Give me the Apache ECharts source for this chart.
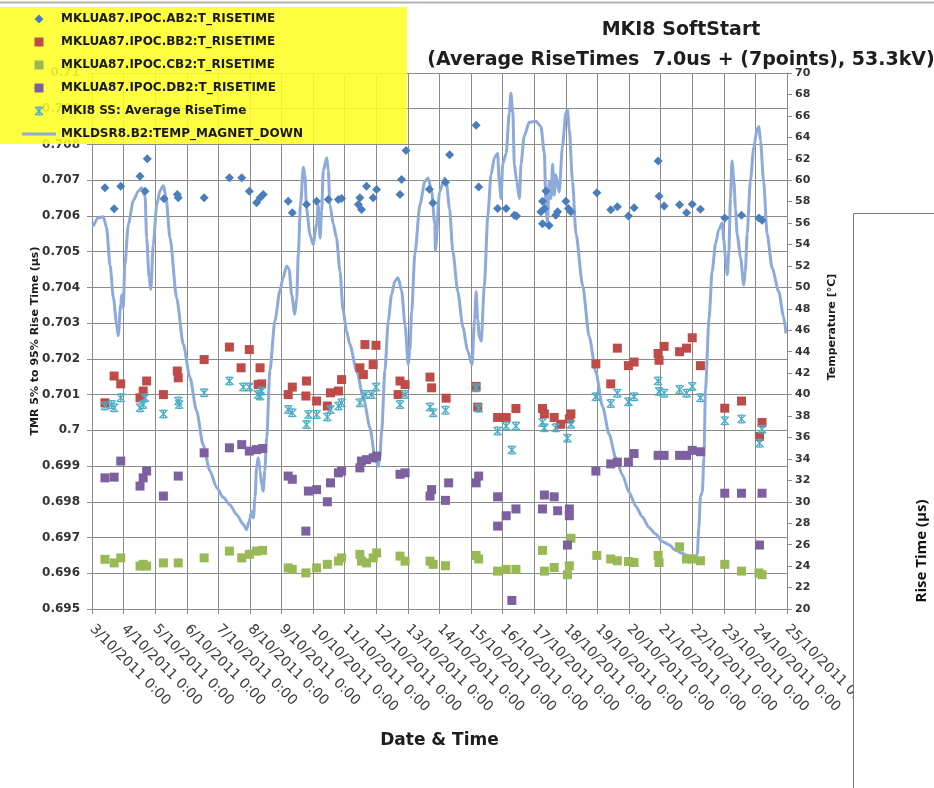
<!DOCTYPE html>
<html>
<head>
<meta charset="utf-8">
<script src="https://cdn.jsdelivr.net/npm/echarts@6/dist/echarts.min.js"></script>
<style>html,body{margin:0;padding:0;background:#fff}#c{width:934px;height:788px}</style>
</head>
<body>
<div id="c"></div>
<script>
// x = day of October 2011 (decimal), y = rise time (µs)
const ab2 = [[3.41,0.70679],[3.70,0.70620],[3.91,0.70683],[4.52,0.70711],[4.75,0.70760],[4.68,0.70669],[5.28,0.70648],[5.70,0.70660],[5.73,0.70651],[6.55,0.70651],[7.35,0.70707],[7.74,0.70707],[7.98,0.70669],[8.21,0.70637],[8.32,0.70651],[8.42,0.70660],[9.21,0.70641],[9.34,0.70609],[9.79,0.70632],[10.11,0.70641],[10.48,0.70646],[10.80,0.70646],[10.90,0.70649],[11.48,0.70651],[11.43,0.70632],[11.53,0.70618],[11.69,0.70683],[11.90,0.70651],[12.01,0.70674],[12.75,0.70660],[12.80,0.70702],[12.94,0.70783],[13.68,0.70675],[13.79,0.70636],[14.19,0.70694],[14.32,0.70771],[15.16,0.70854],[15.24,0.70681],[15.84,0.70621],[16.11,0.70621],[16.37,0.70602],[16.44,0.70600],[17.37,0.70670],[17.26,0.70641],[17.32,0.70621],[17.21,0.70612],[17.26,0.70578],[17.47,0.70573],[17.68,0.70602],[17.74,0.70612],[18.00,0.70641],[18.08,0.70621],[18.16,0.70612],[18.98,0.70665],[19.42,0.70617],[19.63,0.70626],[19.98,0.70600],[20.16,0.70623],[20.92,0.70754],[20.95,0.70655],[21.11,0.70628],[21.60,0.70631],[21.82,0.70609],[22.00,0.70633],[22.26,0.70619],[23.03,0.70594],[23.56,0.70602],[24.11,0.70594],[24.21,0.70588]];
const bb2 = [[3.41,0.70077],[3.70,0.70152],[3.91,0.70130],[4.52,0.70091],[4.62,0.70110],[4.73,0.70138],[5.26,0.70100],[5.70,0.70166],[5.73,0.70147],[6.55,0.70198],[7.35,0.70233],[7.72,0.70175],[7.98,0.70226],[8.32,0.70175],[8.26,0.70128],[8.37,0.70130],[9.21,0.70100],[9.34,0.70121],[9.79,0.70138],[9.77,0.70096],[10.11,0.70082],[10.45,0.70068],[10.55,0.70105],[10.80,0.70110],[10.90,0.70142],[11.48,0.70175],[11.59,0.70156],[11.64,0.70240],[11.99,0.70238],[11.90,0.70184],[12.75,0.70138],[12.91,0.70128],[12.69,0.70100],[13.70,0.70149],[13.75,0.70119],[14.21,0.70090],[15.16,0.70123],[15.21,0.70065],[15.84,0.70036],[16.11,0.70036],[16.42,0.70061],[17.26,0.70061],[17.32,0.70046],[17.63,0.70036],[17.84,0.70017],[18.16,0.70046],[18.11,0.70032],[18.95,0.70186],[19.42,0.70130],[19.63,0.70230],[19.98,0.70181],[20.16,0.70191],[20.92,0.70215],[20.95,0.70196],[21.11,0.70235],[21.60,0.70220],[21.82,0.70230],[22.00,0.70259],[22.26,0.70181],[23.03,0.70062],[23.56,0.70082],[24.21,0.70022],[24.13,0.69983]];
const cb2 = [[3.41,0.69639],[3.70,0.69629],[3.91,0.69643],[4.52,0.69620],[4.62,0.69625],[4.73,0.69620],[5.26,0.69629],[5.73,0.69629],[6.55,0.69643],[7.35,0.69662],[7.74,0.69643],[7.98,0.69653],[8.21,0.69662],[8.40,0.69664],[9.21,0.69615],[9.34,0.69611],[9.77,0.69601],[10.11,0.69615],[10.45,0.69625],[10.80,0.69634],[10.90,0.69643],[11.48,0.69653],[11.53,0.69634],[11.69,0.69629],[11.90,0.69643],[12.01,0.69657],[12.75,0.69648],[12.91,0.69634],[13.70,0.69634],[13.80,0.69625],[14.19,0.69621],[15.16,0.69650],[15.24,0.69640],[15.84,0.69606],[16.11,0.69611],[16.42,0.69611],[17.26,0.69664],[17.32,0.69606],[17.63,0.69616],[18.05,0.69596],[18.16,0.69698],[18.11,0.69621],[18.98,0.69650],[19.42,0.69640],[19.63,0.69635],[19.98,0.69633],[20.16,0.69630],[20.92,0.69650],[20.95,0.69630],[21.60,0.69674],[21.82,0.69640],[22.00,0.69640],[22.26,0.69635],[23.03,0.69625],[23.56,0.69606],[24.11,0.69601],[24.21,0.69596]];
const db2 = [[3.41,0.69867],[3.70,0.69869],[3.91,0.69914],[4.52,0.69844],[4.62,0.69867],[4.73,0.69886],[5.26,0.69816],[5.73,0.69872],[6.55,0.69937],[7.35,0.69951],[7.74,0.69960],[7.98,0.69942],[8.21,0.69946],[8.40,0.69949],[9.21,0.69872],[9.34,0.69863],[9.77,0.69718],[9.85,0.69830],[10.11,0.69834],[10.45,0.69800],[10.55,0.69853],[10.80,0.69881],[10.90,0.69886],[11.48,0.69895],[11.53,0.69914],[11.69,0.69918],[11.90,0.69923],[12.01,0.69928],[12.75,0.69877],[12.91,0.69881],[13.70,0.69816],[13.75,0.69834],[14.19,0.69804],[14.29,0.69853],[15.16,0.69853],[15.24,0.69872],[15.84,0.69814],[15.84,0.69732],[16.11,0.69761],[16.42,0.69780],[16.29,0.69524],[17.26,0.69780],[17.32,0.69819],[17.63,0.69814],[17.74,0.69775],[18.11,0.69780],[18.11,0.69761],[18.05,0.69679],[18.95,0.69886],[19.42,0.69906],[19.63,0.69911],[19.98,0.69911],[20.16,0.69935],[20.92,0.69930],[21.11,0.69930],[21.60,0.69930],[21.82,0.69930],[22.00,0.69944],[22.26,0.69940],[23.03,0.69824],[23.56,0.69824],[24.21,0.69824],[24.13,0.69679]];
const avgRise = [[3.41,0.70068],[3.62,0.70072],[3.70,0.70063],[3.91,0.70091],[4.52,0.70063],[4.62,0.70072],[4.68,0.70091],[5.26,0.70046],[5.73,0.70082],[5.76,0.70072],[6.55,0.70105],[7.35,0.70138],[7.79,0.70121],[7.98,0.70121],[8.26,0.70100],[8.37,0.70110],[8.32,0.70096],[9.21,0.70058],[9.34,0.70049],[9.79,0.70016],[9.85,0.70044],[10.11,0.70044],[10.45,0.70037],[10.55,0.70058],[10.80,0.70068],[10.90,0.70077],[11.48,0.70077],[11.64,0.70100],[11.85,0.70100],[11.99,0.70121],[12.75,0.70072],[12.91,0.70100],[13.70,0.70065],[13.80,0.70049],[14.19,0.70056],[15.16,0.70119],[15.24,0.70062],[15.84,0.69998],[16.11,0.70012],[16.42,0.70012],[16.29,0.69945],[17.26,0.70022],[17.32,0.70007],[17.68,0.70007],[18.05,0.69978],[18.16,0.70017],[18.95,0.70094],[19.42,0.70075],[19.63,0.70104],[19.98,0.70080],[20.16,0.70094],[20.92,0.70138],[20.95,0.70109],[21.11,0.70104],[21.60,0.70114],[21.82,0.70104],[22.00,0.70123],[22.26,0.70091],[23.03,0.70027],[23.56,0.70032],[24.21,0.70003],[24.13,0.69964]];
// x = day of October 2011, y = temperature (°C)
const tempMagnet = [[3.04,55.7],[3.20,56.5],[3.36,56.6],[3.46,55.6],[3.57,52.1],[3.68,49.0],[3.78,46.5],[3.83,45.5],[3.91,48.4],[3.94,49.3],[3.99,48.1],[4.04,52.1],[4.15,55.9],[4.31,58.1],[4.47,59.0],[4.57,59.3],[4.68,58.5],[4.73,54.6],[4.81,50.9],[4.86,49.8],[4.94,54.0],[5.05,57.7],[5.15,59.0],[5.26,59.5],[5.34,58.5],[5.47,54.6],[5.68,49.0],[5.89,44.7],[6.10,41.6],[6.31,38.5],[6.52,35.3],[6.73,32.9],[6.95,31.3],[7.16,30.4],[7.37,29.7],[7.58,28.8],[7.79,27.9],[7.89,27.4],[7.98,28.2],[8.05,29.1],[8.11,28.5],[8.16,30.4],[8.21,33.2],[8.26,34.1],[8.32,32.9],[8.37,31.6],[8.42,31.0],[8.47,32.9],[8.53,36.0],[8.63,42.2],[8.79,46.9],[8.95,49.7],[9.05,50.9],[9.16,52.0],[9.24,51.7],[9.32,49.3],[9.42,47.5],[9.48,49.0],[9.53,53.1],[9.60,57.7],[9.69,61.2],[9.74,60.5],[9.79,57.4],[9.90,54.9],[10.00,54.0],[10.11,55.9],[10.16,57.7],[10.22,54.6],[10.27,57.1],[10.32,60.9],[10.43,62.1],[10.48,60.9],[10.53,57.7],[10.64,55.9],[10.74,54.6],[10.85,51.5],[10.95,47.8],[11.06,45.9],[11.16,44.7],[11.38,42.2],[11.59,39.7],[11.80,36.9],[11.96,34.1],[12.06,33.3],[12.11,34.1],[12.17,36.6],[12.27,42.2],[12.38,46.9],[12.48,49.3],[12.59,50.6],[12.69,50.9],[12.80,49.7],[12.91,46.5],[13.01,42.8],[13.06,44.1],[13.12,47.8],[13.22,53.1],[13.38,57.7],[13.54,59.9],[13.64,60.2],[13.75,59.0],[13.85,55.9],[13.87,53.4],[14.00,58.9],[14.16,60.2],[14.21,59.9],[14.32,57.3],[14.42,53.4],[14.58,49.6],[14.74,46.3],[14.89,44.1],[15.03,42.8],[15.11,47.0],[15.16,49.6],[15.21,47.0],[15.26,45.4],[15.32,45.0],[15.42,50.2],[15.53,56.7],[15.63,60.5],[15.74,62.1],[15.84,62.5],[15.89,59.9],[15.95,58.3],[16.00,61.5],[16.11,62.5],[16.21,66.3],[16.26,68.1],[16.32,66.3],[16.37,61.5],[16.44,59.9],[16.53,58.3],[16.58,61.5],[16.68,64.1],[16.84,65.4],[17.05,65.5],[17.21,65.0],[17.32,62.5],[17.37,57.3],[17.42,56.0],[17.47,59.9],[17.53,58.3],[17.58,61.5],[17.63,58.6],[17.68,60.5],[17.79,58.9],[17.89,63.1],[18.00,66.3],[18.05,66.6],[18.11,64.7],[18.21,59.9],[18.32,55.0],[18.53,50.2],[18.74,45.4],[18.95,42.1],[19.16,38.9],[19.37,36.3],[19.58,34.1],[19.79,32.5],[20.00,30.9],[20.21,29.6],[20.42,28.6],[20.63,27.6],[20.84,27.0],[21.05,26.3],[21.26,26.0],[21.47,25.5],[21.68,25.2],[21.89,24.9],[22.05,24.6],[22.16,25.1],[22.21,27.6],[22.26,30.5],[22.32,30.9],[22.37,34.1],[22.42,40.5],[22.53,47.0],[22.63,51.5],[22.74,54.1],[22.84,55.4],[22.95,56.0],[23.00,54.4],[23.05,52.8],[23.11,51.2],[23.16,53.4],[23.21,58.3],[23.26,61.8],[23.32,59.9],[23.37,57.3],[23.42,55.0],[23.53,52.8],[23.63,50.2],[23.68,51.5],[23.74,55.0],[23.84,59.9],[23.95,63.1],[24.05,64.7],[24.11,65.0],[24.16,63.7],[24.26,59.9],[24.37,55.0],[24.53,51.8],[24.74,49.6],[24.89,47.3],[24.97,45.7]];

const seriesNames = ['MKLUA87.IPOC.AB2:T_RISETIME','MKLUA87.IPOC.BB2:T_RISETIME','MKLUA87.IPOC.CB2:T_RISETIME','MKLUA87.IPOC.DB2:T_RISETIME','MKI8 SS: Average RiseTime','MKLDSR8.B2:TEMP_MAGNET_DOWN'];
const titleLines = ['MKI8 SoftStart','(Average RiseTimes  7.0us + (7points), 53.3kV)'];

const grey = '#8a8a8a';
const starPath = 'path://M4.3,0L5.7,0L5.7,10L4.3,10ZM2,0L8,0L8,1.4L2,1.4ZM2,8.6L8,8.6L8,10L2,10ZM1,0L10,9L9,10L0,1ZM9,0L10,1L1,10L0,9Z';
const diamondPath = 'path://M5,0L10,5L5,10L0,5Z';
const squarePath = 'path://M0,0L10,0L10,10L0,10Z';
const lineIcon = 'path://M0,0L34,0L34,3L0,3Z';
const legendIcons = [diamondPath, squarePath, squarePath, squarePath, starPath, lineIcon];

const chart = echarts.init(document.getElementById('c'), null, {renderer:'canvas'});
chart.setOption({
  animation:false,
  backgroundColor:'#ffffff',
  title:{text:titleLines.join('\n'), left:676, top:10, textAlign:'center',
    textStyle:{fontFamily:'DejaVu Sans', fontWeight:'bold', fontSize:19, lineHeight:30, color:'#1e1e1e'}},
  legend:{orient:'vertical', left:0, top:7, padding:[5,0,0,22], itemWidth:34, itemHeight:9, itemGap:9,
    data:seriesNames.map((n,i)=>({name:n, icon:legendIcons[i]})), z:5,
    itemStyle:{opacity:1},
    textStyle:{fontFamily:'DejaVu Sans', fontWeight:'bold', fontSize:12, lineHeight:14, color:'#1a1a1a'}},
  grid:{left:92, right:147, top:73, bottom:179},
  xAxis:[{type:'value', min:3, max:25, interval:1, position:'bottom',
    name:'Date & Time', nameLocation:'middle', nameGap:123,
    nameTextStyle:{fontFamily:'DejaVu Sans', fontWeight:'bold', fontSize:17, color:'#1e1e1e'},
    axisLine:{lineStyle:{color:grey, width:1}},
    axisTick:{show:true, inside:false, length:5, lineStyle:{color:grey}},
    axisLabel:{rotate:-45, margin:18, fontFamily:'DejaVu Sans', fontSize:14, color:'#3a3a3a',
      formatter:v=>v+'/10/2011 0:00'},
    splitLine:{show:true, lineStyle:{color:grey, width:1}}},
   {type:'value', min:3, max:25, interval:1, position:'bottom',
    axisLine:{show:false}, axisTick:{show:true, inside:true, length:5, lineStyle:{color:grey}},
    axisLabel:{show:false}, splitLine:{show:false}}],
  yAxis:[{type:'value', min:0.695, max:0.71, interval:0.001, position:'left',
    name:'TMR 5% to 95% Rise Time (µs)', nameLocation:'middle', nameGap:51, nameRotate:90, nameMoveOverlap:false,
    nameTextStyle:{fontFamily:'DejaVu Sans', fontWeight:'bold', fontSize:11, color:'#1a1a1a'},
    axisLine:{show:true, lineStyle:{color:grey}},
    axisTick:{show:true, length:5, lineStyle:{color:grey}},
    axisLabel:{margin:12, fontFamily:'DejaVu Sans', fontWeight:'bold', fontSize:12, color:'#333',
      formatter:v=>String(+v.toFixed(3))},
    splitLine:{show:true, lineStyle:{color:grey, width:1}}},
   {type:'value', min:20, max:70, interval:2, position:'right',
    name:'Temperature [°C]', nameLocation:'middle', nameGap:40, nameRotate:90,
    nameTextStyle:{fontFamily:'DejaVu Sans', fontWeight:'bold', fontSize:11, color:'#1a1a1a', padding:[0,0,0,28]},
    axisLine:{show:true, lineStyle:{color:grey}},
    axisTick:{show:true, length:5, lineStyle:{color:grey}},
    axisLabel:{margin:8, fontFamily:'DejaVu Sans', fontWeight:'bold', fontSize:11, color:'#333'},
    splitLine:{show:false}},
   {type:'value', min:0.695, max:0.71, interval:0.001, position:'left',
    axisLine:{show:false}, axisTick:{show:true, inside:true, length:5, lineStyle:{color:grey}},
    axisLabel:{show:false}, splitLine:{show:false}}],
  series:[
    {name:seriesNames[5], type:'line', yAxisIndex:1, data:tempMagnet, showSymbol:false, symbol:'none',
      smooth:0.25, smoothMonotone:'x', lineStyle:{color:'#8EAADB', width:3}, itemStyle:{color:'#8EAADB'}, z:2},
    {name:seriesNames[0], type:'scatter', data:ab2, symbol:'diamond', symbolSize:9, itemStyle:{color:'#4A7EBB', opacity:1}, z:3},
    {name:seriesNames[1], type:'scatter', data:bb2, symbol:'rect', symbolSize:9, itemStyle:{color:'#BE4B48', opacity:1}, z:3},
    {name:seriesNames[2], type:'scatter', data:cb2, symbol:'rect', symbolSize:9, itemStyle:{color:'#98B954', opacity:1}, z:3},
    {name:seriesNames[3], type:'scatter', data:db2, symbol:'rect', symbolSize:9, itemStyle:{color:'#7D60A0', opacity:1}, z:3},
    {name:seriesNames[4], type:'scatter', data:avgRise, symbol:starPath, symbolSize:9,
      itemStyle:{color:'#4BACC6', opacity:1}, z:3}
  ],
  graphic:[
    {type:'line', shape:{x1:0,y1:2.5,x2:934,y2:2.5}, style:{stroke:'#b4b4b4', lineWidth:2}, z:10},
    {type:'rect', shape:{x:0,y:7,width:407,height:137}, style:{fill:'rgba(255,255,40,0.88)'}, z:3},
    {type:'rect', shape:{x:853.5,y:213.5,width:120,height:600}, style:{fill:'#ffffff', stroke:'#7a7a7a', lineWidth:1}, z:10},
    {type:'text', x:922, y:551, rotation:Math.PI/2, z:11,
      style:{text:'Rise Time (µs)', align:'center', verticalAlign:'middle', fontFamily:'Open Sans', fontWeight:'bold', fontSize:15, fill:'#111'}}
  ]
});
</script>
</body>
</html>
